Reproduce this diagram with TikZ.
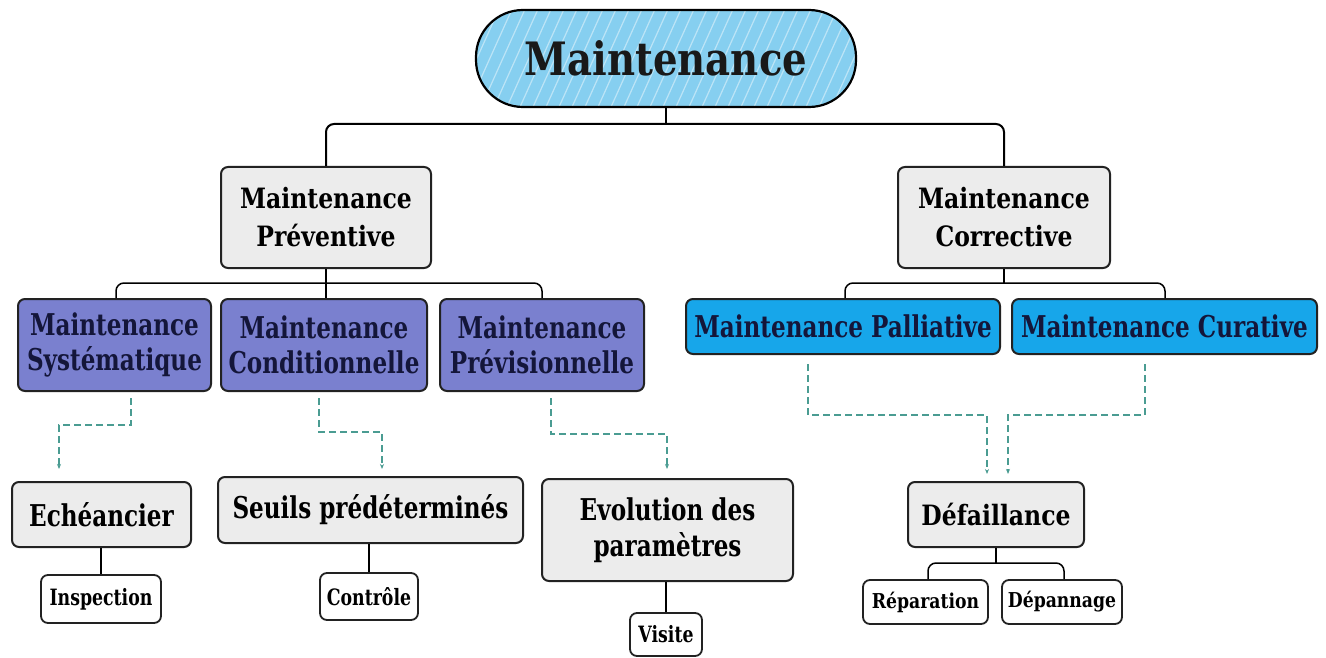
\documentclass[tikz,border=0pt]{standalone}
\usepackage{fontspec}
\setmainfont{DejaVu Serif}
\newfontfamily\condf[FakeStretch=0.77]{DejaVu Serif}
\newfontfamily\medf[FakeStretch=0.84]{DejaVu Serif}
\usetikzlibrary{arrows.meta,calc}
\definecolor{titleblue}{HTML}{86CFF0}
\definecolor{boxgray}{HTML}{ECECEC}
\definecolor{purp}{HTML}{7A80CF}
\definecolor{skyb}{HTML}{17A6EA}
\definecolor{teal}{HTML}{4A9C92}
\definecolor{navy}{HTML}{14163A}
\definecolor{edge}{HTML}{222222}
\tikzset{
  basebox/.style={draw=edge, line width=2pt, rounded corners=7pt, inner sep=0pt, align=center},
  graybox/.style={basebox, fill=boxgray, text=black},
  purpbox/.style={basebox, fill=purp, text=navy, font=\condf\bfseries\fontsize{30}{35}\selectfont},
  bluebox/.style={basebox, fill=skyb, text=navy, font=\condf\bfseries\fontsize{30}{35}\selectfont},
  leafbox/.style={basebox, fill=white, text=black, line width=1.8pt},
  conn/.style={draw=black, line width=2pt, rounded corners=8pt},
  thinconn/.style={draw=black, line width=1.5pt, rounded corners=8pt},
  dsh/.style={draw=teal, line width=1.4pt, dash pattern=on 7pt off 4pt, -{Stealth[length=5pt,width=4pt]}},
}
\begin{document}
\begin{tikzpicture}[x=1pt,y=-1pt]
\useasboundingbox[fill=white] (0,0) rectangle (1326,658);

% title
\node[draw=black, line width=2.2pt, rounded corners=47pt, fill=titleblue,
      minimum width=380pt, minimum height=97pt, inner sep=0pt,
      font=\medf\bfseries\fontsize{46}{52}\selectfont, text=black!90,
      path picture={
        \foreach \i in {-60,-47,...,420}
          \draw[white, opacity=0.45, line width=1.2pt]
            ([xshift=\i pt]path picture bounding box.south west) -- ++(45,-100);
      }] (title) at (666,58.5) {Maintenance};

% level 2
\node[graybox, minimum width=210pt, minimum height=101pt,
      font=\medf\bfseries\fontsize{28}{38}\selectfont] (prev) at (326,217.5) {Maintenance\\Préventive};
\node[graybox, minimum width=212pt, minimum height=101pt,
      font=\medf\bfseries\fontsize{28}{38}\selectfont] (corr) at (1004,217.5) {Maintenance\\Corrective};

% level 3
\node[purpbox, minimum width=193pt, minimum height=92pt] (sys) at (114.5,345) {Maintenance\\Systématique};
\node[purpbox, minimum width=206pt, minimum height=92pt] (cond) at (324,345) {Maintenance\\Conditionnelle};
\node[purpbox, minimum width=204pt, minimum height=92pt] (previs) at (542,345) {Maintenance\\Prévisionnelle};
\node[bluebox, minimum width=314pt, minimum height=55pt] (pall) at (843,326.5) {Maintenance Palliative};
\node[bluebox, minimum width=305pt, minimum height=55pt] (cur) at (1164.5,326.5) {Maintenance Curative};

% level 4
\node[graybox, minimum width=179pt, minimum height=65pt,
      font=\condf\bfseries\fontsize{30}{35}\selectfont] (ech) at (101.5,514.5) {Echéancier};
\node[graybox, minimum width=305pt, minimum height=66pt,
      font=\condf\bfseries\fontsize{30}{35}\selectfont] (seuils) at (370.5,510) {Seuils prédéterminés};
\node[graybox, minimum width=251pt, minimum height=102pt,
      font=\condf\bfseries\fontsize{30}{36}\selectfont] (evol) at (667.5,530) {Evolution des\\paramètres};
\node[graybox, minimum width=176pt, minimum height=65pt,
      font=\medf\bfseries\fontsize{28}{32}\selectfont] (def) at (996,514.5) {Défaillance};

% leaves
\node[leafbox, minimum width=120pt, minimum height=48pt,
      font=\condf\bfseries\fontsize{22.5}{26}\selectfont] (insp) at (101,599) {Inspection};
\node[leafbox, minimum width=98pt, minimum height=47pt,
      font=\condf\bfseries\fontsize{22.5}{26}\selectfont] (ctrl) at (369,596.5) {Contrôle};
\node[leafbox, minimum width=72pt, minimum height=43pt,
      font=\condf\bfseries\fontsize{22.5}{26}\selectfont] (vis) at (666,634.5) {Visite};
\node[leafbox, minimum width=125pt, minimum height=44pt,
      font=\medf\bfseries\fontsize{20.5}{24}\selectfont] (rep) at (925.5,602) {Réparation};
\node[leafbox, minimum width=120pt, minimum height=44pt,
      font=\medf\bfseries\fontsize{20.5}{24}\selectfont] (dep) at (1062,602) {Dépannage};

% tree connectors
\coordinate (b1) at (0,124);
\coordinate (b2) at (0,283);
\coordinate (b3) at (0,563);
\draw[conn] (title.south) -- (title.south |- b1);
\draw[conn] (prev.north) -- (prev.north |- b1) -- (corr.north |- b1) -- (corr.north);

\draw[thinconn] (prev.south) -- (prev.south |- b2);
\draw[thinconn] ([xshift=1.5pt]sys.north) -- ([xshift=1.5pt]sys.north |- b2) -- (previs.north |- b2) -- (previs.north);
\draw[thinconn] (prev.south |- b2) -- (prev.south |- cond.north);

\draw[thinconn] (corr.south) -- (corr.south |- b2);
\draw[thinconn] ([xshift=2pt]pall.north) -- ([xshift=2pt]pall.north |- b2) -- ([xshift=0.5pt]cur.north |- b2) -- ([xshift=0.5pt]cur.north);

\draw[thinconn] (insp.north) -- (insp.north |- ech.south);
\draw[thinconn] (ctrl.north) -- (ctrl.north |- seuils.south);
\draw[thinconn] (vis.north) -- (vis.north |- evol.south);

\draw[thinconn] (def.south) -- (def.south |- b3);
\draw[thinconn] ([xshift=2.5pt]rep.north) -- ([xshift=2.5pt]rep.north |- b3) -- ([xshift=2pt]dep.north |- b3) -- ([xshift=2pt]dep.north);

% dashed arrows
\draw[dsh] ([xshift=16.5pt,yshift=-6pt]sys.south) -- ++(0,27) -| ([xshift=-42.5pt,yshift=12pt]ech.north);
\draw[dsh] ([xshift=-5pt,yshift=-6pt]cond.south) -- ++(0,34) -| ([xshift=11.5pt,yshift=7pt]seuils.north);
\draw[dsh] ([xshift=9pt,yshift=-6pt]previs.south) -- ++(0,36) -| ([xshift=-0.5pt,yshift=9pt]evol.north);
\draw[dsh] ([xshift=-35pt,yshift=-9pt]pall.south) -- ++(0,51) -| ([xshift=-9pt,yshift=7pt]def.north);
\draw[dsh] ([xshift=-19.5pt,yshift=-9pt]cur.south) -- ++(0,51) -| ([xshift=12pt,yshift=7pt]def.north);
\end{tikzpicture}
\end{document}
